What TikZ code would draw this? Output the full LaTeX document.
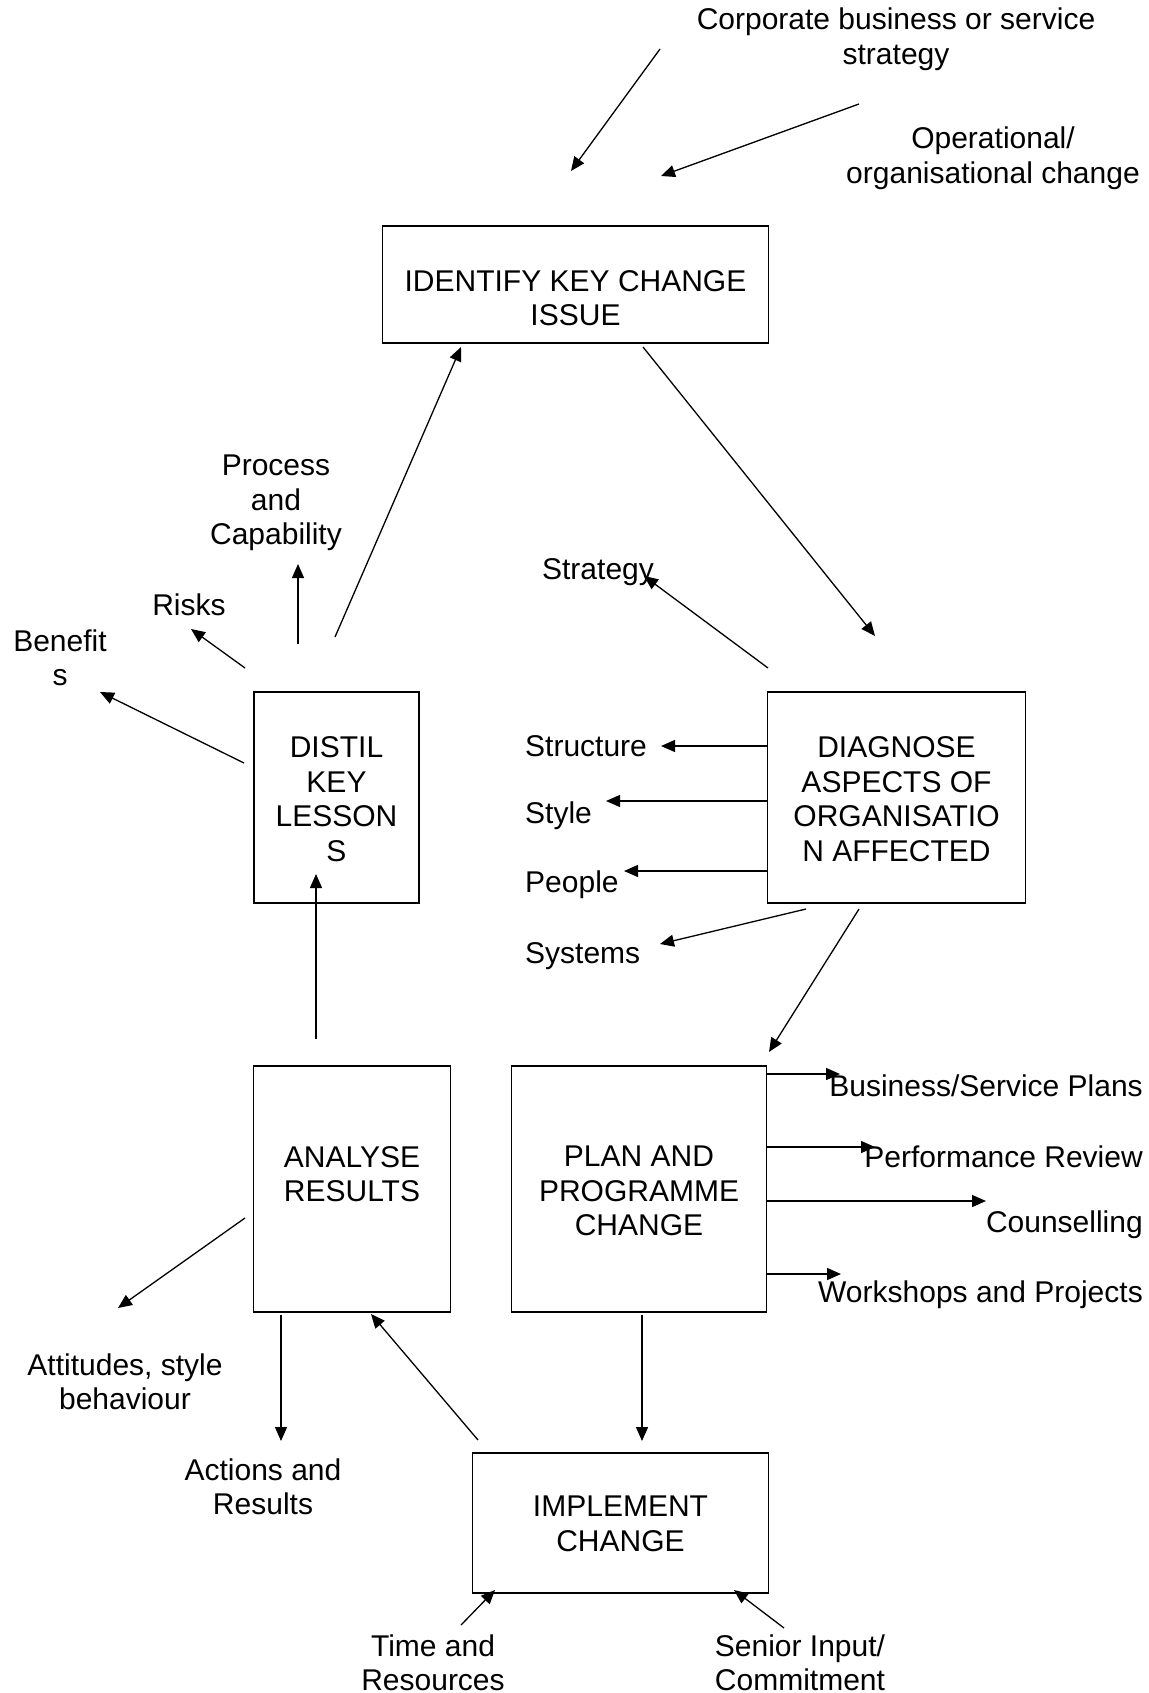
\documentclass[tikz,border=0pt]{standalone}
\usepackage{fontspec}
\setmainfont{Liberation Sans}
\usetikzlibrary{arrows.meta}
\newcommand\diagfont{\fontsize{30}{34.5}\selectfont}
\tikzset{
  box/.style={draw, line width=1.7pt, inner sep=0pt},
  lbl/.style={inner sep=0pt, font=\diagfont, align=center},
  arr/.style={-{Triangle[length=14pt,width=12pt]}, line width=1.3pt},
}
\begin{document}
\begin{tikzpicture}[x=1pt,y=-1pt]
\useasboundingbox[fill=white] (0,0) rectangle (1148,1693);

% boxes
\node[box, minimum width=386pt, minimum height=117pt] (identify) at (575.5,284.5) {};
\node[box, minimum width=165pt, minimum height=211pt] (distil) at (336.5,797.5) {};
\node[box, minimum width=258pt, minimum height=211pt] (diagnose) at (896.5,797.5) {};
\node[box, minimum width=197pt, minimum height=246pt] (analyse) at (352,1189) {};
\node[box, minimum width=255pt, minimum height=246pt] (plan) at (639,1189) {};
\node[box, minimum width=296pt, minimum height=140pt] (implement) at (620.5,1523) {};

% box texts
\node[lbl] (tidentify) at (575.5,298) {IDENTIFY KEY CHANGE\\ISSUE};
\node[lbl] (tdistil) at (336.5,799) {DISTIL\\KEY\\LESSON\\S};
\node[lbl] (tdiagnose) at (896.5,799) {DIAGNOSE\\ASPECTS OF\\ORGANISATIO\\N AFFECTED};
\node[lbl] (tanalyse) at (352,1174) {ANALYSE\\RESULTS};
\node[lbl] (tplan) at (639,1191) {PLAN AND\\PROGRAMME\\CHANGE};
\node[lbl] (timplement) at (620.5,1524) {IMPLEMENT\\CHANGE};

% free labels
\node[lbl] (corporate) at (896,39) {Corporate business or service\\strategy};
\node[lbl] (operational) at (993,158) {Operational/\\organisational change};
\node[lbl] (process) at (276,503) {Process\\and\\Capability};
\node[lbl] (risks) at (189,605) {Risks};
\node[lbl] (benefits) at (60,658) {Benefit\\s};
\node[lbl] (strategy) at (598,572) {Strategy};
\node[lbl, anchor=west] (structure) at (525,746) {Structure};
\node[lbl, anchor=west] (style) at (525,816) {Style};
\node[lbl, anchor=west] (people) at (525,885) {People};
\node[lbl, anchor=west] (systems) at (525,956) {Systems};
\node[lbl, anchor=east] (business) at (1143,1086) {Business/Service Plans};
\node[lbl, anchor=east] (performance) at (1143,1157) {Performance Review};
\node[lbl, anchor=east] (counselling) at (1143,1225) {Counselling};
\node[lbl, anchor=east] (workshops) at (1143,1295) {Workshops and Projects};
\node[lbl] (attitudes) at (125,1382) {Attitudes, style\\behaviour};
\node[lbl] (actions) at (263,1487) {Actions and\\Results};
\node[lbl] (time) at (433,1663) {Time and\\Resources};
\node[lbl] (senior) at (800,1663) {Senior Input/\\Commitment};

% connector end points
\coordinate (a1s) at (660,49);   \coordinate (a1e) at (571,171);
\coordinate (a2s) at (859,104);  \coordinate (a2e) at (661,176);
\coordinate (a3s) at (643,347);  \coordinate (a3e) at (875,636);
\coordinate (a4s) at (335,637);  \coordinate (a4e) at (461,347);
\coordinate (a5s) at (298,644);  \coordinate (a5e) at (298,564);
\coordinate (a6s) at (245,668);  \coordinate (a6e) at (191,629);
\coordinate (a7s) at (244,763);  \coordinate (a7e) at (100,692);
\coordinate (a8s) at (316,1039); \coordinate (a8e) at (316,874);
\coordinate (a9s) at (768,668);  \coordinate (a9e) at (644,576);
\coordinate (a10e) at (661,746);
\coordinate (a11e) at (606,801);
\coordinate (a12e) at (624,871);
\coordinate (a13s) at (806,909); \coordinate (a13e) at (660,944);
\coordinate (a14s) at (859,909); \coordinate (a14e) at (769,1052);
\coordinate (a15e) at (840,1074);
\coordinate (a16e) at (875,1147);
\coordinate (a17e) at (986,1201);
\coordinate (a18e) at (841,1274);
\coordinate (a19s) at (245,1218); \coordinate (a19e) at (118,1308);
\coordinate (a20s) at (281,1315); \coordinate (a20e) at (281,1441);
\coordinate (a21s) at (478,1440); \coordinate (a21e) at (371,1314);
\coordinate (a22s) at (642,1315); \coordinate (a22e) at (642,1441);
\coordinate (a23s) at (461,1625); \coordinate (a23e) at (495,1590);
\coordinate (a24s) at (784,1628); \coordinate (a24e) at (734,1590);

% connectors
\draw[arr] (a1s) -- (a1e);
\draw[arr] (a2s) -- (a2e);
\draw[arr] (a3s) -- (a3e);
\draw[arr] (a4s) -- (a4e);
\draw[arr] (a5s) -- (a5e);
\draw[arr] (a6s) -- (a6e);
\draw[arr] (a7s) -- (a7e);
\draw[arr] (a8s) -- (a8e);
\draw[arr] (a9s) -- (a9e);
\draw[arr] (diagnose.west |- a10e) -- (a10e);
\draw[arr] (diagnose.west |- a11e) -- (a11e);
\draw[arr] (diagnose.west |- a12e) -- (a12e);
\draw[arr] (a13s) -- (a13e);
\draw[arr] (a14s) -- (a14e);
\draw[arr] (plan.east |- a15e) -- (a15e);
\draw[arr] (plan.east |- a16e) -- (a16e);
\draw[arr] (plan.east |- a17e) -- (a17e);
\draw[arr] (plan.east |- a18e) -- (a18e);
\draw[arr] (a19s) -- (a19e);
\draw[arr] (a20s) -- (a20e);
\draw[arr] (a21s) -- (a21e);
\draw[arr] (a22s) -- (a22e);
\draw[arr] (a23s) -- (a23e);
\draw[arr] (a24s) -- (a24e);
\end{tikzpicture}
\end{document}
